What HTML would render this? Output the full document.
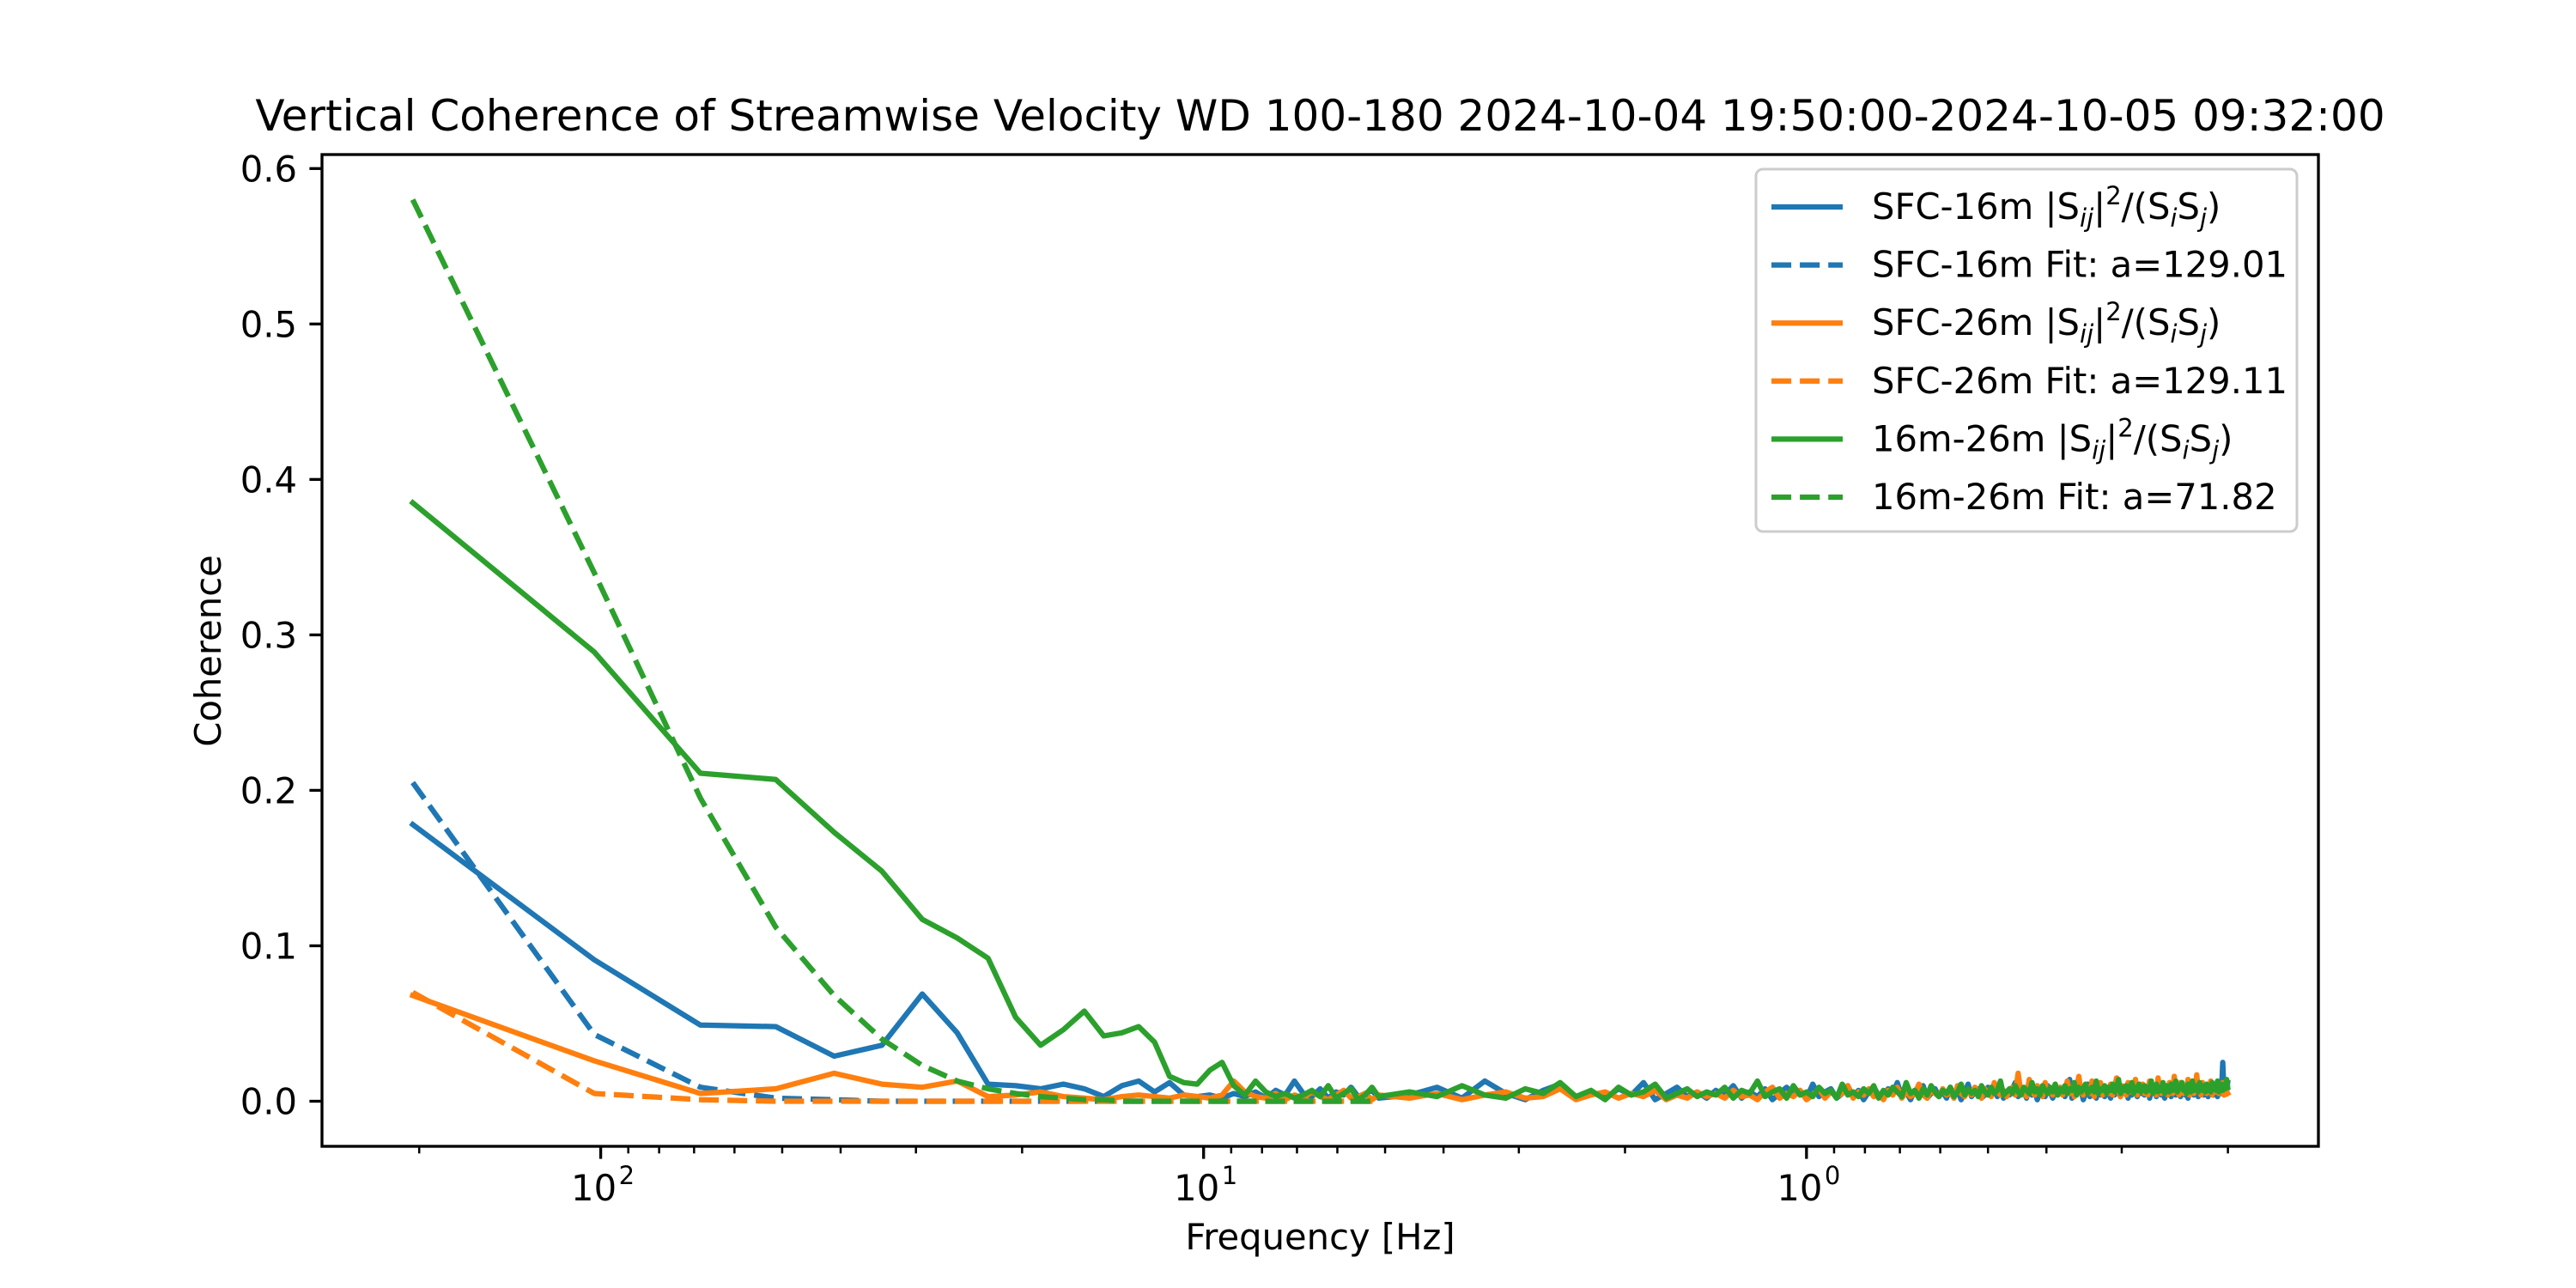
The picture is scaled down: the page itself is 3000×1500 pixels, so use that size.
<!DOCTYPE html>
<html><head><meta charset="utf-8">
<style>
html,body{margin:0;padding:0;background:#fff;}
svg{display:block;font-family:"DejaVu Sans","Liberation Sans",sans-serif;}
</style></head>
<body>
<svg id="chart" width="3000" height="1500" viewBox="0 0 3000 1500" xmlns="http://www.w3.org/2000/svg">
<rect x="0" y="0" width="3000" height="1500" fill="#fff"/>
<text x="1537.5" y="152" font-size="50" text-anchor="middle" fill="#000">Vertical Coherence of Streamwise Velocity WD 100-180 2024-10-04 19:50:00-2024-10-05 09:32:00</text>
<g id="plot"></g>
<g id="axes"></g>
<text x="1537.5" y="1455" font-size="41.7" text-anchor="middle">Frequency [Hz]</text>
<text x="0" y="0" font-size="41.7" text-anchor="middle" transform="translate(257,758) rotate(-90)">Coherence</text>
<g id="legend">
<rect x="2045" y="197" width="630" height="422" rx="8" fill="#fff" fill-opacity="0.8" stroke="#cccccc" stroke-width="3"/>
</g>
</svg>
<script>
// ---- data ----
const fundamental = 205;
const bins = [1,2,3,4,5,6,7,8,9,10,11,12,13,14,15,16,17,18,19,20,21,22,23,24,25,26,27,28,29,30,31,32,33,34,35,36,37,38,39,40,
45,50,55,60,65,70,75,80,85,90,95,100,105,110,115,120,125,130,135,140,
145,150,155,160,165,170,175,180,185,190,195,200,205,210,215,220,225,230,235,240,
245,250,255,260,265,270,275,280,285,290,295,300,305,310,315,320,325,330,335,340,
345,350,355,360,365,370,375,380,385,390,395,400,405,410,415,420,425,430,435,440,
445,450,455,460,465,470,475,480,485,490,495,500,505,510,515,520,525,530,535,540,
545,550,555,560,565,570,575,580,585,590,595,600,605,610,615,620,625,630,635,640,
645,650,655,660,665,670,675,680,685,690,695,700,705,710,715,720,725,730,735,740,
745,750,755,760,765,770,775,780,785,790,795,800,805,810,815,820,825,830,835,840,
845,850,855,860,865,870,875,880,885,890,895,900,905,910,915,920,925,930,935,940,
945,950,955,960,965,970,975,980,985,990,995,1000,1005,1010,1015,1020,1024];

const cohSfc16 = [.178,.091,.049,.048,.029,.036,.069,.044,.011,.010,.008,.011,.008,.003,.010,.013,.006,.012,.004,.003,.004,.002,.005,.003,.006,.002,.007,.004,.013,.005,.003,.008,.002,.006,.004,.009,.003,.005,.007,.002,
.004,.009,.002,.013,.005,.001,.007,.011,.003,.006,.002,.008,.004,.012,.001,.005,.009,.003,.006,.002,
.007,.004,.010,.002,.006,.003,.008,.001,.005,.009,.004,.007,.002,.011,.003,.006,.008,.002,.005,.010,
.003,.007,.001,.006,.009,.004,.002,.008,.005,.012,.003,.006,.001,.007,.004,.010,.002,.005,.008,.003,
.006,.002,.009,.004,.007,.001,.005,.011,.003,.006,.008,.002,.004,.009,.005,.007,.003,.010,.002,.006,
.004,.008,.012,.003,.005,.007,.002,.009,.004,.006,.001,.008,.005,.003,.010,.006,.002,.007,.004,.009,
.005,.003,.008,.014,.002,.006,.004,.009,.007,.001,.005,.011,.003,.008,.006,.002,.010,.004,.007,.003,
.009,.005,.002,.007,.004,.012,.006,.003,.008,.005,.010,.002,.006,.004,.009,.007,.003,.011,.005,.008,
.004,.006,.010,.002,.007,.005,.009,.003,.013,.006,.004,.008,.002,.007,.005,.010,.003,.006,.009,.004,
.007,.011,.003,.006,.008,.004,.009,.002,.007,.005,.012,.004,.006,.008,.003,.010,.005,.007,.004,.009,
.006,.003,.008,.005,.011,.004,.007,.009,.003,.006,.010,.005,.025,.004,.008,.006,.012];

const cohSfc26 = [.068,.026,.005,.008,.018,.011,.009,.013,.003,.004,.006,.003,.002,.001,.003,.004,.003,.002,.004,.003,.002,.004,.013,.006,.003,.002,.005,.001,.004,.002,.006,.003,.001,.004,.007,.002,.003,.005,.001,.004,
.002,.005,.001,.004,.006,.002,.003,.008,.001,.004,.006,.002,.005,.003,.007,.001,.004,.002,.006,.003,
.005,.002,.007,.003,.004,.001,.006,.009,.002,.005,.003,.007,.001,.004,.008,.002,.006,.003,.005,.010,
.002,.006,.004,.008,.003,.005,.001,.007,.004,.009,.002,.006,.003,.005,.011,.004,.002,.007,.005,.003,
.008,.004,.006,.002,.010,.005,.003,.007,.004,.009,.006,.002,.008,.005,.003,.012,.006,.004,.007,.003,
.006,.009,.004,.018,.005,.008,.003,.014,.006,.004,.010,.007,.003,.012,.005,.008,.004,.011,.006,.009,
.004,.007,.013,.005,.009,.003,.008,.016,.006,.004,.010,.007,.005,.013,.003,.009,.006,.012,.004,.008,
.007,.005,.011,.004,.009,.015,.006,.003,.010,.007,.004,.012,.006,.009,.005,.014,.004,.008,.006,.011,
.005,.009,.004,.013,.007,.006,.010,.004,.015,.008,.005,.011,.006,.009,.004,.012,.007,.005,.016,.006,
.009,.004,.012,.007,.005,.010,.006,.014,.004,.008,.011,.005,.009,.017,.006,.008,.004,.012,.007,.010,
.005,.009,.006,.013,.004,.008,.011,.006,.010,.005,.009,.007,.012,.004,.008,.006,.005];

const coh1626 = [.385,.289,.211,.207,.173,.148,.117,.105,.092,.054,.036,.046,.058,.042,.044,.048,.038,.016,.012,.011,.020,.025,.010,.004,.013,.006,.003,.005,.002,.004,.007,.003,.010,.002,.005,.008,.001,.004,.009,.003,
.006,.003,.010,.004,.002,.008,.005,.012,.003,.007,.001,.009,.004,.006,.011,.002,.005,.008,.003,.006,
.004,.009,.002,.007,.005,.013,.003,.006,.008,.002,.010,.004,.006,.003,.009,.005,.007,.002,.011,.004,
.006,.003,.008,.005,.010,.002,.007,.004,.009,.006,.003,.012,.005,.007,.002,.008,.004,.010,.006,.003,
.007,.005,.009,.003,.006,.011,.004,.008,.005,.007,.003,.010,.006,.004,.009,.005,.007,.013,.004,.006,
.008,.005,.010,.006,.004,.009,.007,.005,.012,.006,.008,.004,.010,.007,.005,.009,.006,.011,.004,.008,
.006,.010,.005,.008,.007,.012,.004,.009,.006,.008,.011,.005,.007,.009,.006,.013,.005,.008,.007,.010,
.005,.009,.007,.011,.006,.008,.014,.005,.009,.007,.010,.006,.008,.012,.005,.009,.007,.011,.006,.008,
.010,.006,.009,.007,.013,.005,.008,.011,.006,.009,.007,.012,.005,.010,.008,.006,.011,.007,.009,.013,
.006,.010,.008,.012,.007,.009,.005,.011,.008,.006,.013,.007,.009,.010,.006,.012,.008,.007,.010,.006,
.011,.007,.009,.006,.012,.008,.010,.007,.013,.006,.009,.011,.007,.010,.008,.014,.009];

const fitSfc16 = [.205,.043,.009,.002,.001,0,0,0,0,0,0,0,0,0,0,0,0,0,0,0,0,0,0,0,0,0,0,0,0,0,0,0,0,0,0,0,0,0,0,0];
const fitSfc26 = [.070,.005,.001,0,0,0,0,0,0,0,0,0,0,0,0,0,0,0,0,0,0,0,0,0,0,0,0,0,0,0,0,0,0,0,0,0,0,0,0,0];
const fit1626  = [.580,.340,.195,.112,.068,.040,.023,.013,.008,.005,.003,.002,.001,.001,0,0,0,0,0,0,0,0,0,0,0,0,0,0,0,0,0,0,0,0,0,0,0,0,0,0];

const yTicks = [0.0,0.1,0.2,0.3,0.4,0.5,0.6];
const yTickLabels = ["0.0","0.1","0.2","0.3","0.4","0.5","0.6"];
const xMajorTicks = [100,10,1];
const xMajorExp = ["2","1","0"];
const xMinorTicks = [200,90,80,70,60,50,40,30,20,9,8,7,6,5,4,3,2,0.9,0.8,0.7,0.6,0.5,0.4,0.3,0.2];

const legendLabels = [
 {name:"SFC-16m", kind:"coh"},
 {name:"SFC-16m Fit: a=129.01", kind:"fit"},
 {name:"SFC-26m", kind:"coh"},
 {name:"SFC-26m Fit: a=129.11", kind:"fit"},
 {name:"16m-26m", kind:"coh"},
 {name:"16m-26m Fit: a=71.82", kind:"fit"}
];

// ---- layout ----
const NS = "http://www.w3.org/2000/svg";
const AX = {l:375, r:2700, t:180, b:1335};
const freqs = bins.map(n => fundamental / n);
const lmax = Math.log10(Math.max(...freqs)), lmin = Math.log10(Math.min(...freqs));
const lspan = lmax - lmin;
const xHi = lmax + 0.05*lspan, xLo = lmin - 0.05*lspan; // inverted: high freq on left
function xs(f){ return AX.l + (xHi - Math.log10(f)) / (xHi - xLo) * (AX.r - AX.l); }
const allY = [].concat(cohSfc16, cohSfc26, coh1626, fitSfc16, fitSfc26, fit1626);
const ymx = Math.max(...allY), ymn = Math.min(...allY);
const yLo = ymn - 0.05*(ymx-ymn), yHi = ymx + 0.05*(ymx-ymn);
function ys(v){ return AX.b - (v - yLo)/(yHi - yLo) * (AX.b - AX.t); }

function mk(tag, attrs, parent){
  const e = document.createElementNS(NS, tag);
  for (const k in attrs) e.setAttribute(k, attrs[k]);
  parent.appendChild(e);
  return e;
}

const plot = document.getElementById('plot');
const clip = mk('clipPath', {id:'clipAx'}, plot);
mk('rect', {x:AX.l, y:AX.t, width:AX.r-AX.l, height:AX.b-AX.t}, clip);

const series = [
  {vals:cohSfc16, color:'#1f77b4', dash:null, name:'line-sfc-16m'},
  {vals:fitSfc16, color:'#1f77b4', dash:'23.1 10', name:'fit-sfc-16m'},
  {vals:cohSfc26, color:'#ff7f0e', dash:null, name:'line-sfc-26m'},
  {vals:fitSfc26, color:'#ff7f0e', dash:'23.1 10', name:'fit-sfc-26m'},
  {vals:coh1626, color:'#2ca02c', dash:null, name:'line-16m-26m'},
  {vals:fit1626, color:'#2ca02c', dash:'23.1 10', name:'fit-16m-26m'}
];
series.forEach(s => {
  const pts = s.vals.map((v,i) => xs(freqs[i]).toFixed(2)+','+ys(v).toFixed(2)).join(' ');
  const pl = mk('polyline', {points:pts, fill:'none', stroke:s.color, 'stroke-width':6.25, 'stroke-linejoin':'round', 'stroke-linecap':'square', 'clip-path':'url(#clipAx)'}, plot);
  if (s.dash) { pl.setAttribute('stroke-dasharray', s.dash); pl.setAttribute('stroke-linecap','butt'); }
  
  
});

// ---- axes ----
const axes = document.getElementById('axes');
yTicks.forEach((v,i) => {
  const y = ys(v);
  const t = mk('line', {x1:AX.l-14.6, x2:AX.l, y1:y, y2:y, stroke:'#000', 'stroke-width':3.33}, axes);
  
  
  const tx = mk('text', {x:AX.l-29, y:y+15, 'font-size':41.7, 'text-anchor':'end'}, axes);
  tx.textContent = yTickLabels[i];
  
  
});
xMinorTicks.forEach(f => {
  const x = xs(f);
  const t = mk('line', {x1:x, x2:x, y1:AX.b, y2:AX.b+8.3, stroke:'#000', 'stroke-width':2.5}, axes);
  
  
});
xMajorTicks.forEach((f,i) => {
  const x = xs(f);
  const t = mk('line', {x1:x, x2:x, y1:AX.b, y2:AX.b+14.6, stroke:'#000', 'stroke-width':3.33}, axes);
  
  
  const tx = mk('text', {x:x-8, y:AX.b+63, 'font-size':41.7, 'text-anchor':'middle'}, axes);
  tx.textContent = '10';
  
  
  const sp = mk('text', {x:x+21, y:AX.b+44, 'font-size':29}, axes);
  sp.textContent = xMajorExp[i];
  
  
});
const frame = mk('rect', {x:AX.l, y:AX.t, width:AX.r-AX.l, height:AX.b-AX.t, fill:'none', stroke:'#000', 'stroke-width':3.33}, axes);



// ---- legend ----
const legend = document.getElementById('legend');
const legColors = ['#1f77b4','#1f77b4','#ff7f0e','#ff7f0e','#2ca02c','#2ca02c'];
legendLabels.forEach((L,i) => {
  const y = 241 + i*67.6;
  const g = mk('g', {}, legend);
  
  
  const ln = mk('line', {x1:2063, x2:2146, y1:y, y2:y, stroke:legColors[i], 'stroke-width':6.25}, g);
  if (L.kind === 'fit') ln.setAttribute('stroke-dasharray', '23.1 10');
  
  
  const tx = mk('text', {x:2180, y:y+14, 'font-size':41.7}, g);
  
  
  if (L.kind === 'fit') {
    tx.textContent = L.name;
  } else {
    tx.innerHTML = L.name + ' |S<tspan font-size="29" font-style="italic" dy="9">ij</tspan><tspan dy="-9">|</tspan><tspan font-size="29" dy="-17">2</tspan><tspan dy="17">/(S</tspan><tspan font-size="29" font-style="italic" dy="9">i</tspan><tspan dy="-9">S</tspan><tspan font-size="29" font-style="italic" dy="9">j</tspan><tspan dy="-9">)</tspan>';
  }
});
</script>
</body></html>
